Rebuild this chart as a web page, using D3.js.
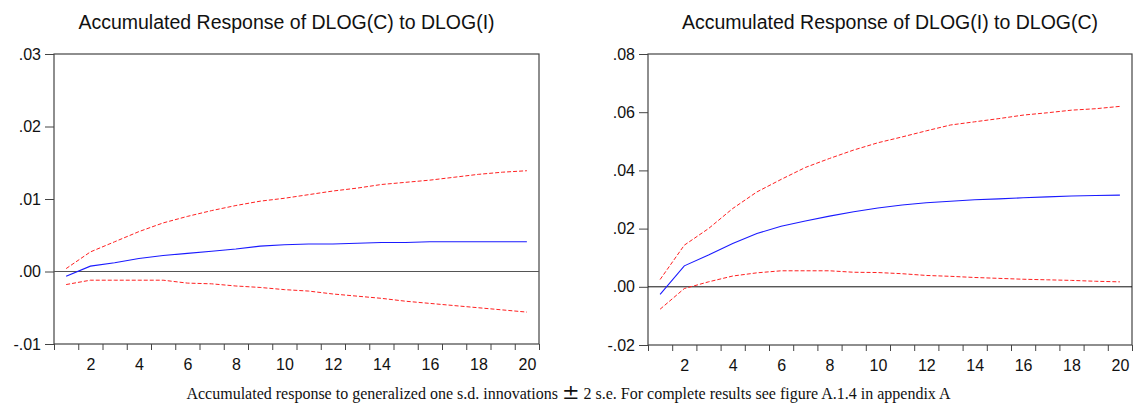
<!DOCTYPE html>
<html>
<head>
<meta charset="utf-8">
<script src="https://cdn.jsdelivr.net/npm/d3@7"></script>
<style>
  html, body { margin: 0; padding: 0; background: #fff; }
  svg { display: block; }
</style>
</head>
<body>
<svg id="chart" width="1134" height="404"></svg>
<script>
// ---- data ----
const periods = [1,2,3,4,5,6,7,8,9,10,11,12,13,14,15,16,17,18,19,20];
const xTickLabels = [2,4,6,8,10,12,14,16,18,20];

const titleLeft = "Accumulated Response of DLOG(C) to DLOG(I)";
const respCtoI  = [-0.00065,0.00074,0.0012,0.0018,0.0022,0.0025,0.0028,0.0031,0.0035,0.0037,0.0038,0.0038,0.0039,0.0040,0.0040,0.0041,0.0041,0.0041,0.0041,0.0041];
const upperCtoI = [0.0004,0.0027,0.0041,0.0055,0.0067,0.0076,0.0084,0.0091,0.0097,0.0101,0.0106,0.0111,0.0115,0.0120,0.0123,0.0126,0.0130,0.0134,0.0137,0.0139];
const lowerCtoI = [-0.0018,-0.0012,-0.0012,-0.0012,-0.0012,-0.0016,-0.0017,-0.0020,-0.0022,-0.0025,-0.0027,-0.0031,-0.0034,-0.0037,-0.0041,-0.0044,-0.0047,-0.0050,-0.0053,-0.0056];
const yTicksLeft = [-0.01,0.00,0.01,0.02,0.03];

const titleRight = "Accumulated Response of DLOG(I) to DLOG(C)";
const respItoC  = [-0.0026,0.0072,0.0109,0.0149,0.0183,0.0208,0.0226,0.0243,0.0258,0.0271,0.0281,0.0289,0.0294,0.0299,0.0302,0.0306,0.0309,0.0312,0.0314,0.0315];
const upperItoC = [0.0025,0.0143,0.0200,0.0269,0.0326,0.0369,0.0410,0.0441,0.0470,0.0495,0.0515,0.0536,0.0556,0.0567,0.0578,0.0590,0.0598,0.0607,0.0612,0.0620];
const lowerItoC = [-0.0077,-0.0006,0.0017,0.0037,0.0048,0.0055,0.0055,0.0055,0.0050,0.0049,0.0045,0.0039,0.0036,0.0032,0.0029,0.0026,0.0024,0.0022,0.0019,0.0017];
const yTicksRight = [-0.02,0.00,0.02,0.04,0.06,0.08];

const captionParts = ["Accumulated response to generalized one s.d. innovations ", "\u00B1", " 2 s.e. For complete results see figure A.1.4 in appendix A"];

// ---- drawing ----
const svg = d3.select("#chart");
const sans = "'Liberation Sans', Arial, sans-serif";

function fmt(v) {
  let s = d3.format(".2f")(Math.abs(v) < 1e-12 ? 0 : v);
  return s.replace(/^[-\u2212]?0\./, m => (m[0] === "0" ? "." : "-."));
}

function panel(opt) {
  const x = d3.scaleLinear().domain([0.5, 20.5]).range([opt.x0, opt.x1]);
  const y = d3.scaleLinear().domain(opt.yDomain).range([opt.y1, opt.y0]);
  const g = svg.append("g");

  // title
  g.append("text")
    .attr("x", opt.titleX).attr("y", 28.5)
    .attr("text-anchor", "middle")
    .style("font-family", sans).style("font-size", "19.5px").style("fill", "#111")
    .text(opt.title);

  // y axis
  const ya = g.append("g").attr("transform", `translate(${opt.x0},0)`)
    .call(d3.axisLeft(y).tickValues(opt.yTicks).tickFormat(fmt).tickSize(9).tickSizeOuter(0).tickPadding(4));
  ya.select(".domain").remove();
  ya.selectAll("line").attr("stroke", "#444");
  ya.selectAll("text").style("font-family", sans).style("font-size", "16px").style("fill", "#111");

  // x axis tick marks at period boundaries
  const boundaries = [0.5].concat(periods.map(p => p + 0.5));
  const xa = g.append("g").attr("transform", `translate(0,${opt.y1})`)
    .call(d3.axisBottom(x).tickValues(boundaries).tickFormat("").tickSize(6).tickSizeOuter(0));
  xa.select(".domain").remove();
  xa.selectAll("line").attr("stroke", "#444");
  const xl = g.append("g").attr("transform", `translate(0,${opt.y1})`)
    .call(d3.axisBottom(x).tickValues(xTickLabels).tickSize(0).tickPadding(15));
  xl.select(".domain").remove();
  xl.selectAll("text").style("font-family", sans).style("font-size", "16px").style("fill", "#111");

  // frame
  g.append("rect")
    .attr("x", opt.x0).attr("y", opt.y0)
    .attr("width", opt.x1 - opt.x0).attr("height", opt.y1 - opt.y0)
    .attr("fill", "none").attr("stroke", "#444").attr("stroke-width", 1.2);

  // zero line
  g.append("line")
    .attr("x1", opt.x0).attr("x2", opt.x1)
    .attr("y1", y(0)).attr("y2", y(0))
    .attr("stroke", opt.zeroColor).attr("stroke-width", 1);

  const line = d3.line().x((d, i) => x(periods[i])).y(d => y(d));
  g.append("path").datum(opt.upper).attr("d", line)
    .attr("fill", "none").attr("stroke", "#ff2020").attr("stroke-width", 1).attr("stroke-dasharray", "4,2");
  g.append("path").datum(opt.lower).attr("d", line)
    .attr("fill", "none").attr("stroke", "#ff2020").attr("stroke-width", 1).attr("stroke-dasharray", "4,2");
  g.append("path").datum(opt.resp).attr("d", line)
    .attr("fill", "none").attr("stroke", "#1a1aff").attr("stroke-width", 1.1);
}

panel({
  x0: 54, x1: 539, y0: 54, y1: 344,
  yDomain: [-0.01, 0.03], yTicks: yTicksLeft,
  title: titleLeft, titleX: 286.5, zeroColor: "#555",
  resp: respCtoI, upper: upperCtoI, lower: lowerCtoI
});

panel({
  x0: 648, x1: 1132, y0: 54, y1: 345,
  yDomain: [-0.02, 0.08], yTicks: yTicksRight,
  title: titleRight, titleX: 890, zeroColor: "#111",
  resp: respItoC, upper: upperItoC, lower: lowerItoC
});

const cap = svg.append("text")
  .attr("x", 568.5).attr("y", 399)
  .attr("text-anchor", "middle")
  .style("font-family", "'Liberation Serif', 'Times New Roman', serif")
  .style("font-size", "16px").style("fill", "#111");
cap.append("tspan").text(captionParts[0]);
cap.append("tspan").style("font-size", "21px").style("font-family", "'DejaVu Serif', serif").text(captionParts[1]);
cap.append("tspan").text(captionParts[2]);
</script>
</body>
</html>
